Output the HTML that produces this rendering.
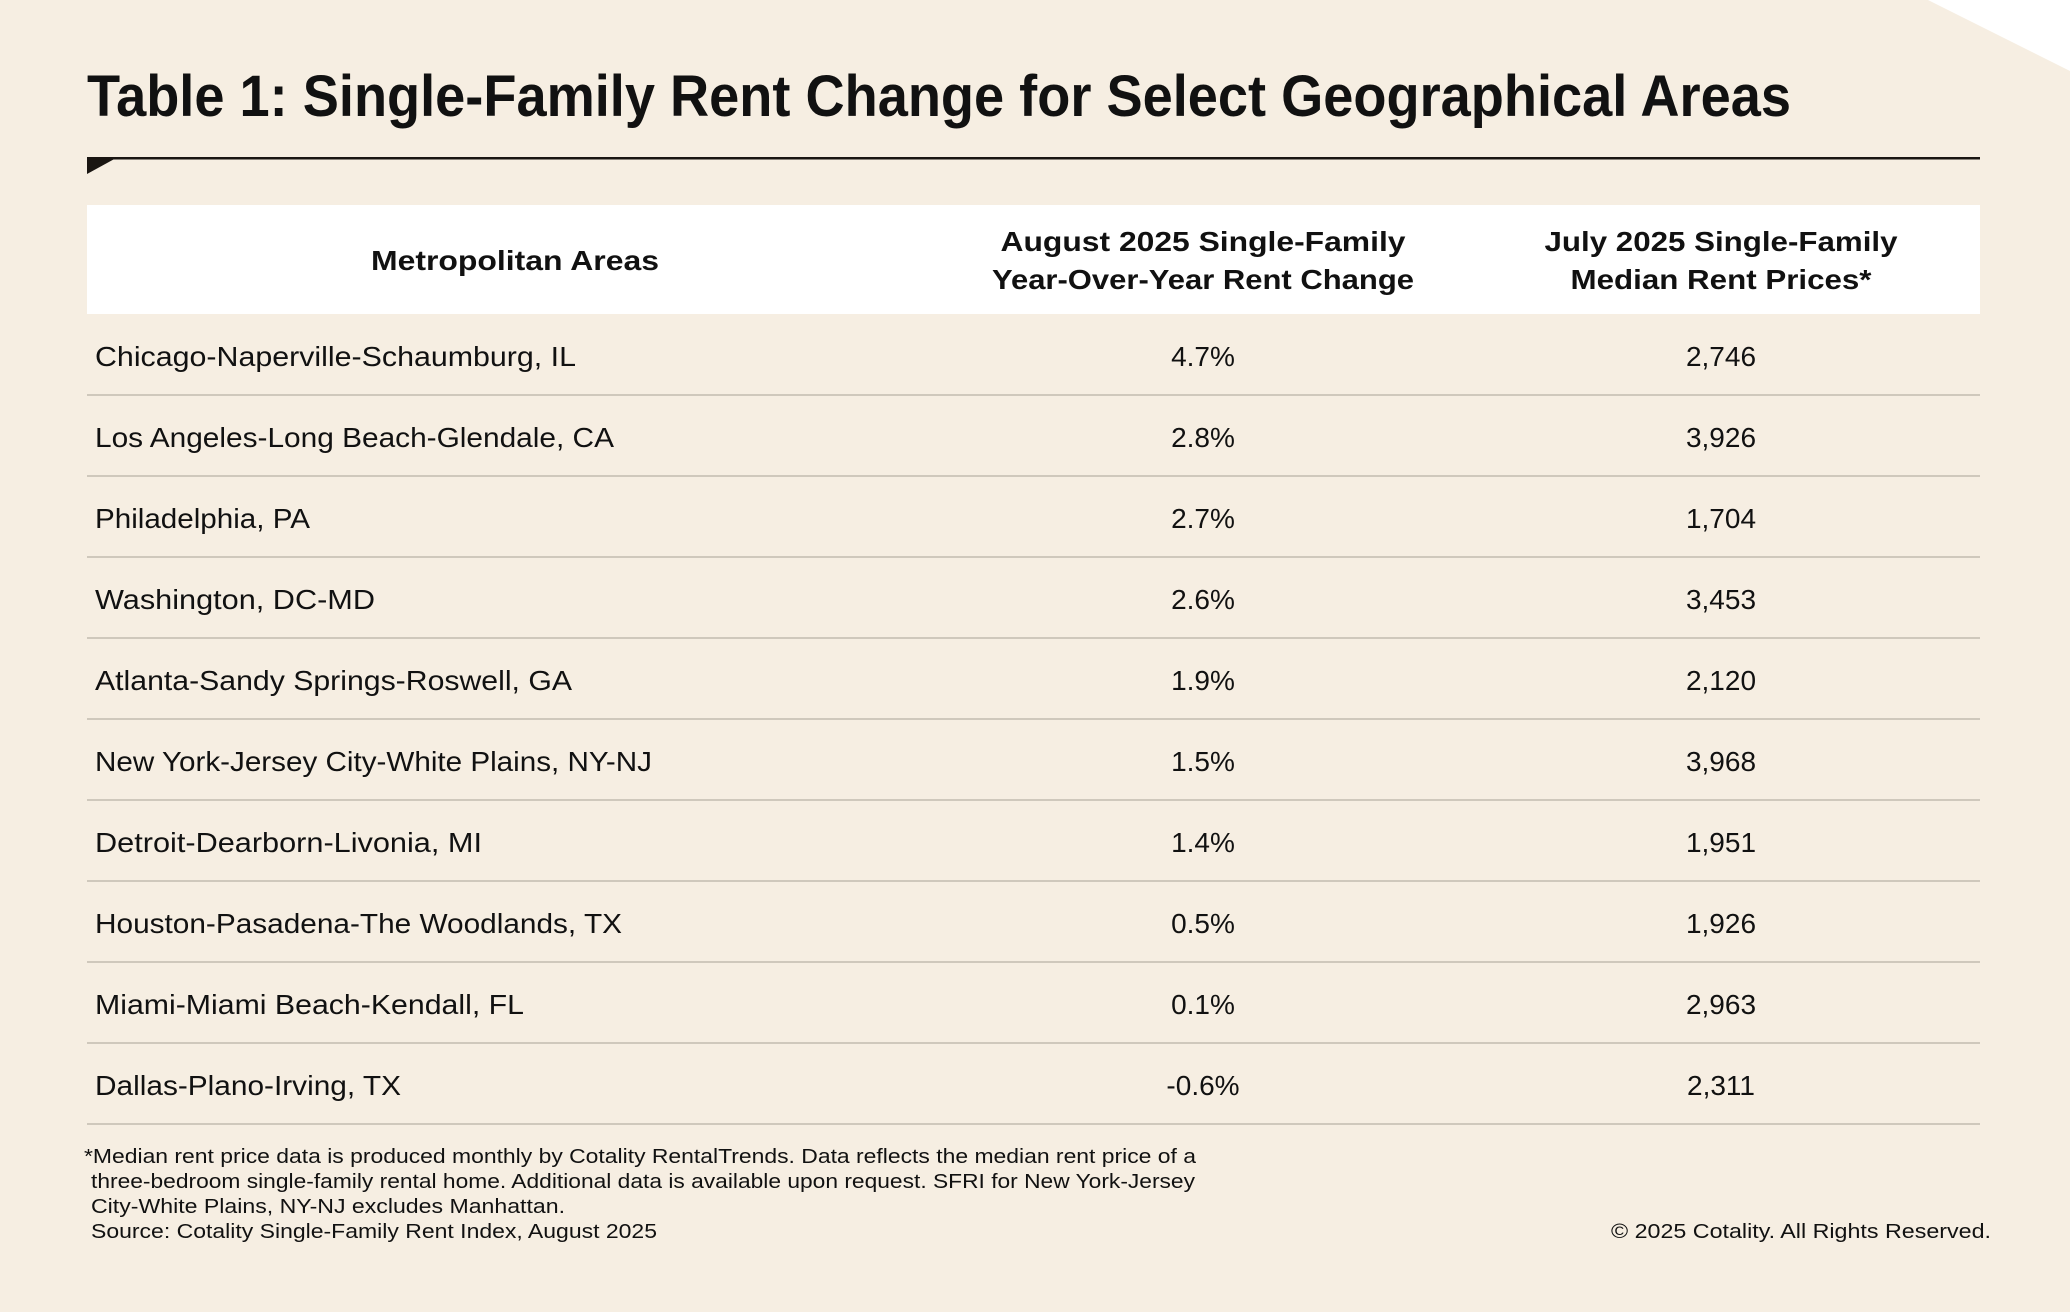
<!DOCTYPE html>
<html><head><meta charset="utf-8"><style>
html,body{margin:0;padding:0;background:#f6eee2;}
svg{display:block;}
text{font-family:"Liberation Sans",sans-serif;fill:#111;}
.b{font-weight:bold;}
</style></head><body>
<svg width="2070" height="1312" viewBox="0 0 2070 1312" xmlns="http://www.w3.org/2000/svg">
<rect width="2070" height="1312" fill="#f6eee2"/>
<polygon points="1928,0 2070,0 2070,71" fill="#ffffff"/>
<text class="b" x="87" y="116" font-size="58" textLength="1704" lengthAdjust="spacingAndGlyphs">Table 1: Single-Family Rent Change for Select Geographical Areas</text>
<rect x="87" y="157" width="1893" height="2.5" fill="#1a1612"/>
<polygon points="87,157 118,157 87,174" fill="#1a1612"/>
<rect x="87" y="205" width="1893" height="109" fill="#ffffff"/>
<g class="b" font-size="28" text-anchor="middle">
<text class="b" x="515" y="270" textLength="288" lengthAdjust="spacingAndGlyphs">Metropolitan Areas</text>
<text class="b" x="1203" y="251" textLength="405" lengthAdjust="spacingAndGlyphs">August 2025 Single-Family</text>
<text class="b" x="1203" y="289" textLength="422" lengthAdjust="spacingAndGlyphs">Year-Over-Year Rent Change</text>
<text class="b" x="1721" y="251" textLength="353" lengthAdjust="spacingAndGlyphs">July 2025 Single-Family</text>
<text class="b" x="1721" y="289" textLength="301" lengthAdjust="spacingAndGlyphs">Median Rent Prices*</text>
</g>
<g fill="#cfc8bc">
<rect x="87" y="394" width="1893" height="2"/><rect x="87" y="475" width="1893" height="2"/>
<rect x="87" y="556" width="1893" height="2"/><rect x="87" y="637" width="1893" height="2"/>
<rect x="87" y="718" width="1893" height="2"/><rect x="87" y="799" width="1893" height="2"/>
<rect x="87" y="880" width="1893" height="2"/><rect x="87" y="961" width="1893" height="2"/>
<rect x="87" y="1042" width="1893" height="2"/><rect x="87" y="1123" width="1893" height="2"/>
</g>
<g font-size="28">
<text x="95" y="366" textLength="481" lengthAdjust="spacingAndGlyphs">Chicago-Naperville-Schaumburg, IL</text>
<text x="95" y="447" textLength="519" lengthAdjust="spacingAndGlyphs">Los Angeles-Long Beach-Glendale, CA</text>
<text x="95" y="528" textLength="215" lengthAdjust="spacingAndGlyphs">Philadelphia, PA</text>
<text x="95" y="609" textLength="280" lengthAdjust="spacingAndGlyphs">Washington, DC-MD</text>
<text x="95" y="690" textLength="477" lengthAdjust="spacingAndGlyphs">Atlanta-Sandy Springs-Roswell, GA</text>
<text x="95" y="771" textLength="557" lengthAdjust="spacingAndGlyphs">New York-Jersey City-White Plains, NY-NJ</text>
<text x="95" y="852" textLength="387" lengthAdjust="spacingAndGlyphs">Detroit-Dearborn-Livonia, MI</text>
<text x="95" y="933" textLength="527" lengthAdjust="spacingAndGlyphs">Houston-Pasadena-The Woodlands, TX</text>
<text x="95" y="1014" textLength="429" lengthAdjust="spacingAndGlyphs">Miami-Miami Beach-Kendall, FL</text>
<text x="95" y="1095" textLength="306" lengthAdjust="spacingAndGlyphs">Dallas-Plano-Irving, TX</text>
</g>
<g font-size="28" text-anchor="middle">
<text x="1203" y="366">4.7%</text><text x="1721" y="366">2,746</text>
<text x="1203" y="447">2.8%</text><text x="1721" y="447">3,926</text>
<text x="1203" y="528">2.7%</text><text x="1721" y="528">1,704</text>
<text x="1203" y="609">2.6%</text><text x="1721" y="609">3,453</text>
<text x="1203" y="690">1.9%</text><text x="1721" y="690">2,120</text>
<text x="1203" y="771">1.5%</text><text x="1721" y="771">3,968</text>
<text x="1203" y="852">1.4%</text><text x="1721" y="852">1,951</text>
<text x="1203" y="933">0.5%</text><text x="1721" y="933">1,926</text>
<text x="1203" y="1014">0.1%</text><text x="1721" y="1014">2,963</text>
<text x="1203" y="1095">-0.6%</text><text x="1721" y="1095">2,311</text>
</g>
<g font-size="20">
<text x="84" y="1163" textLength="1112" lengthAdjust="spacingAndGlyphs">*Median rent price data is produced monthly by Cotality RentalTrends. Data reflects the median rent price of a</text>
<text x="91" y="1188" textLength="1104" lengthAdjust="spacingAndGlyphs">three-bedroom single-family rental home. Additional data is available upon request. SFRI for New York-Jersey</text>
<text x="91" y="1213" textLength="474" lengthAdjust="spacingAndGlyphs">City-White Plains, NY-NJ excludes Manhattan.</text>
<text x="91" y="1238" textLength="566" lengthAdjust="spacingAndGlyphs">Source: Cotality Single-Family Rent Index, August 2025</text>
<text x="1991" y="1238" text-anchor="end" textLength="380" lengthAdjust="spacingAndGlyphs">© 2025 Cotality. All Rights Reserved.</text>
</g>
</svg>
</body></html>
